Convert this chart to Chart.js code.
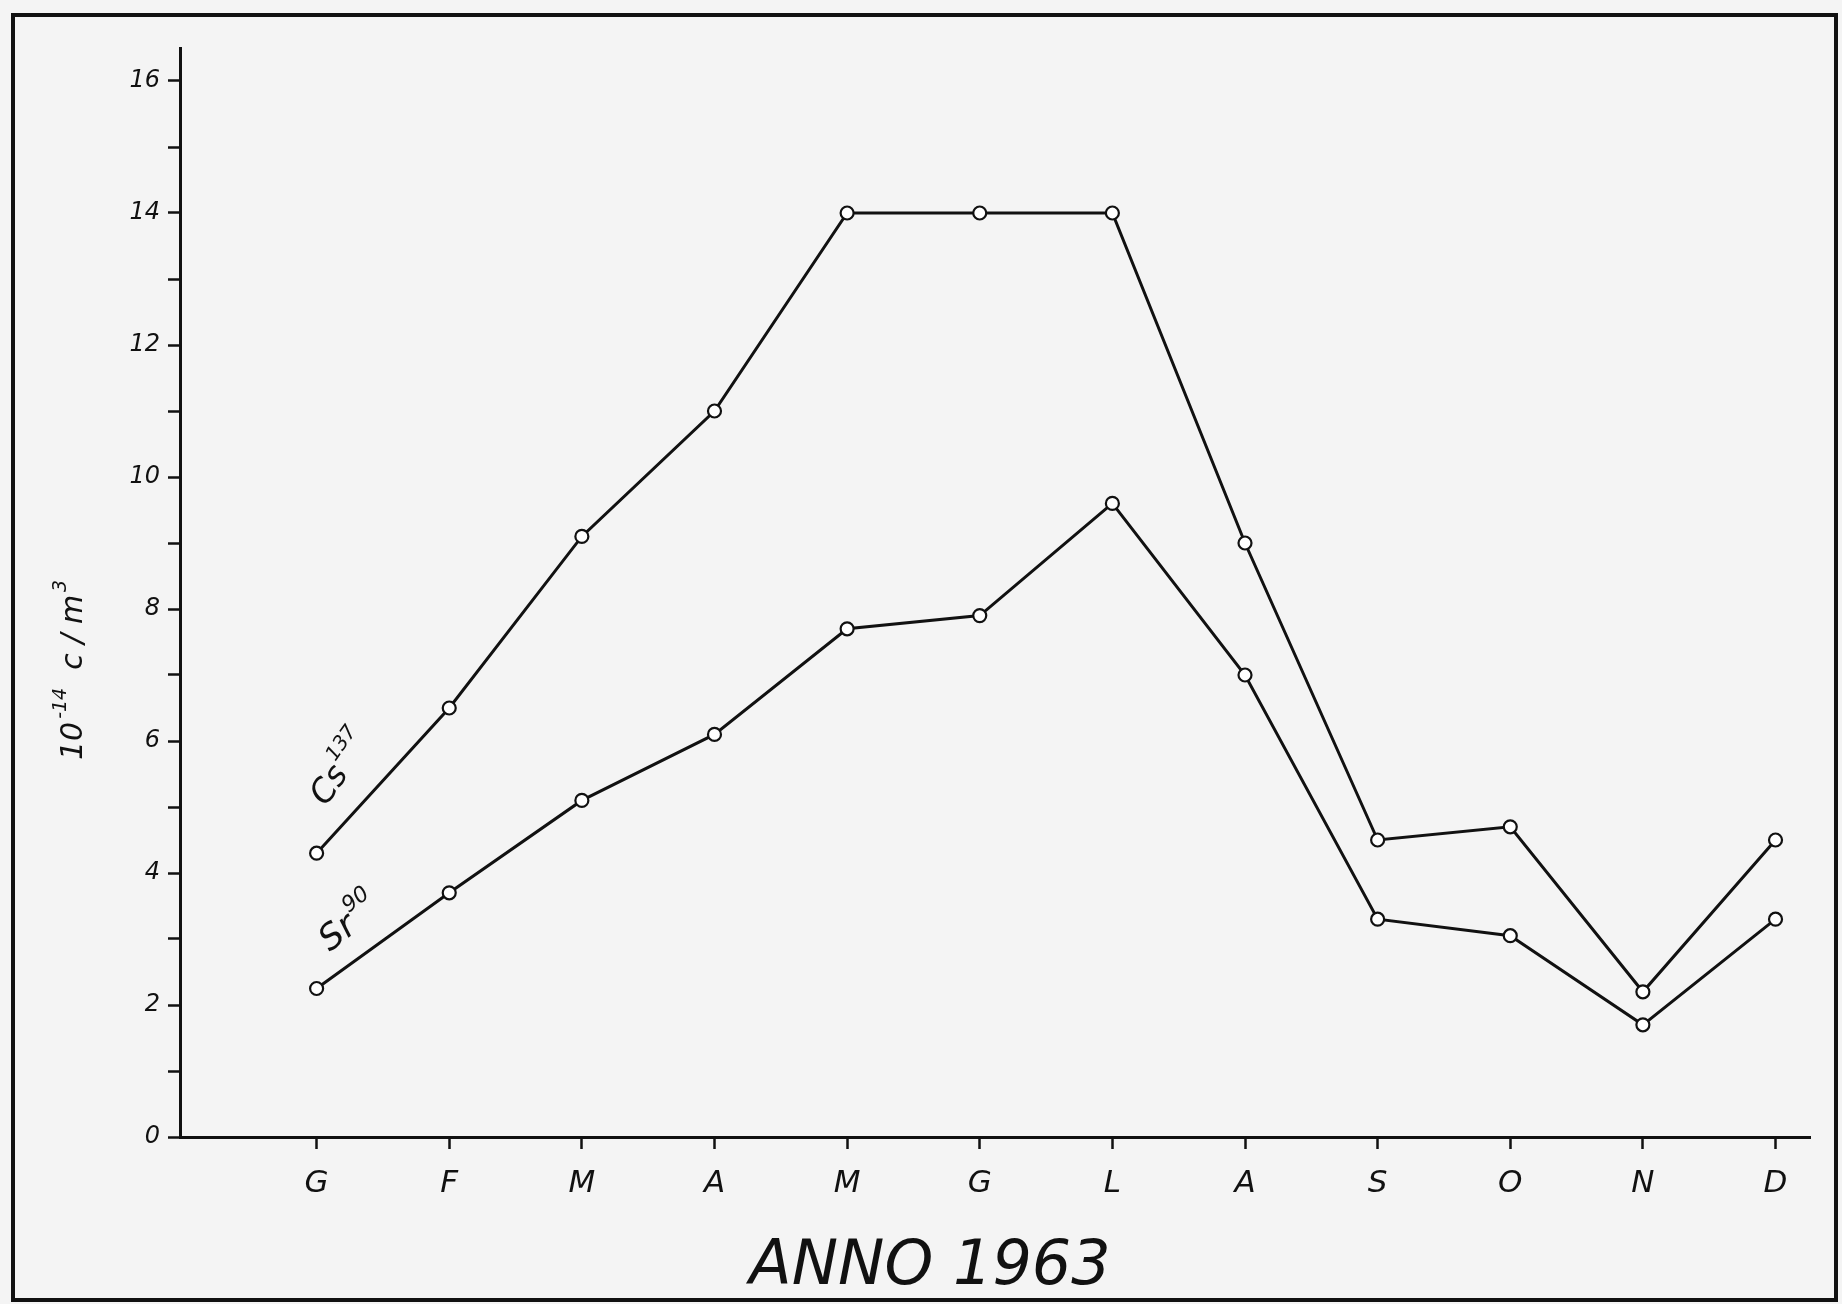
<!DOCTYPE html>
<html>
<head>
<meta charset="utf-8">
<script src="https://cdn.jsdelivr.net/npm/chart.js@4.4.0/dist/chart.umd.min.js"></script>
<style>
  html, body { margin: 0; padding: 0; background: #f4f4f4; }
  #wrap { position: relative; width: 1842px; height: 1304px; overflow: hidden; }
  #frame { position: absolute; left: 11px; top: 13px; width: 1819px; height: 1281px;
           border: 4px solid #111; pointer-events: none; }
  canvas { position: absolute; left: 0; top: 0; }
</style>
</head>
<body>
<div id="wrap">
  <canvas id="chart" width="1842" height="1304"></canvas>
  <div id="frame"></div>
</div>
<script>
'use strict';

// Months of 1963 (Italian initials)
const months = ['G', 'F', 'M', 'A', 'M', 'G', 'L', 'A', 'S', 'O', 'N', 'D'];

// Concentrations, 10^-14 c/m3
const cs137 = [4.3, 6.5, 9.1, 11.0, 14.0, 14.0, 14.0, 9.0, 4.5, 4.7, 2.2, 4.5];
const sr90 = [2.25, 3.7, 5.1, 6.1, 7.7, 7.9, 9.6, 7.0, 3.3, 3.05, 1.7, 3.3];

// Y tick labels shown (every other tick)
const yLabels = [0, 2, 4, 6, 8, 10, 12, 14, 16];

const ink = '#111';
const fontFamily = '"DejaVu Sans", sans-serif';

function toPoints(values) {
    return values.map((v, i) => ({ x: i, y: v }));
}

function isMonth(v) {
    return Number.isInteger(v) && v >= 0 && v < months.length;
}

// Draw a rotated word with a superscript after it
function drawWithSup(ctx, x, y, angle, base, sup, size) {
    ctx.save();
    ctx.translate(x, y);
    ctx.rotate(angle);
    ctx.font = 'italic ' + size + 'px ' + fontFamily;
    ctx.fillText(base, 0, 0);
    const w = ctx.measureText(base).width;
    ctx.font = 'italic ' + Math.round(size * 0.62) + 'px ' + fontFamily;
    ctx.fillText(sup, w + 2, -size * 0.55);
    ctx.restore();
}

const labelsPlugin = {
    id: 'handLabels',
    afterDraw(chart) {
        const ctx = chart.ctx;
        const xs = chart.scales.x;
        const ys = chart.scales.y;
        ctx.save();
        ctx.fillStyle = ink;
        ctx.textBaseline = 'alphabetic';
        ctx.textAlign = 'left';

        // series names along the lines
        drawWithSup(ctx, xs.getPixelForValue(0.07), ys.getPixelForValue(5.0),
            -55 * Math.PI / 180, 'Cs', '137', 33);
        drawWithSup(ctx, xs.getPixelForValue(0.1), ys.getPixelForValue(2.8),
            -38 * Math.PI / 180, 'Sr', '90', 35);

        // y axis title: 10^-14 c/m^3
        ctx.save();
        ctx.translate(82, 760);
        ctx.rotate(-Math.PI / 2);
        ctx.font = 'italic 30px ' + fontFamily;
        ctx.fillText('10', 0, 0);
        let w = ctx.measureText('10').width + 3;
        ctx.font = 'italic 19px ' + fontFamily;
        ctx.fillText('-14', w, -16);
        w += ctx.measureText('-14').width + 18;
        ctx.font = 'italic 30px ' + fontFamily;
        ctx.fillText('c / m', w, 0);
        w += ctx.measureText('c / m').width + 3;
        ctx.font = 'italic 19px ' + fontFamily;
        ctx.fillText('3', w, -16);
        ctx.restore();

        // axis caption
        ctx.font = 'italic 62px ' + fontFamily;
        ctx.textAlign = 'center';
        ctx.fillText('ANNO 1963', 930, 1284);
        ctx.restore();
    }
};

const lineStyle = {
    borderColor: ink,
    borderWidth: 3,
    pointRadius: 6.5,
    pointBorderWidth: 2.2,
    pointBorderColor: ink,
    pointBackgroundColor: '#fff',
    tension: 0,
    fill: false
};

new Chart(document.getElementById('chart'), {
    type: 'line',
    data: {
        datasets: [
            Object.assign({ label: 'Cs137', data: toPoints(cs137) }, lineStyle),
            Object.assign({ label: 'Sr90', data: toPoints(sr90) }, lineStyle)
        ]
    },
    options: {
        responsive: false,
        animation: false,
        events: [],
        layout: { padding: { left: 0, top: 48, right: 32, bottom: 0 } },
        plugins: {
            legend: { display: false },
            tooltip: { enabled: false },
            title: { display: false }
        },
        scales: {
            x: {
                type: 'linear',
                min: -1.03,
                max: 11.26,
                afterFit: scale => { scale.height = 167; },
                border: { display: true, color: ink, width: 3 },
                grid: {
                    drawOnChartArea: false,
                    drawTicks: true,
                    tickLength: 12,
                    tickWidth: 2.5,
                    tickColor: c => (c.tick && isMonth(c.tick.value)) ? ink : 'rgba(0,0,0,0)'
                },
                ticks: {
                    stepSize: 1,
                    includeBounds: false,
                    autoSkip: false,
                    maxRotation: 0,
                    padding: 16,
                    color: ink,
                    font: { family: fontFamily, size: 31, style: 'italic' },
                    callback: v => isMonth(v) ? months[v] : ''
                }
            },
            y: {
                min: 0,
                max: 16.5,
                afterFit: scale => { scale.width = 180; },
                border: { display: true, color: ink, width: 3 },
                grid: {
                    drawOnChartArea: false,
                    drawTicks: true,
                    tickLength: 12,
                    tickWidth: 2.5,
                    tickColor: ink
                },
                ticks: {
                    stepSize: 1,
                    includeBounds: false,
                    autoSkip: false,
                    padding: 8,
                    color: ink,
                    font: { family: fontFamily, size: 24, style: 'italic' },
                    callback: v => yLabels.includes(v) ? v : ''
                }
            }
        }
    },
    plugins: [labelsPlugin]
});
</script>
</body>
</html>
